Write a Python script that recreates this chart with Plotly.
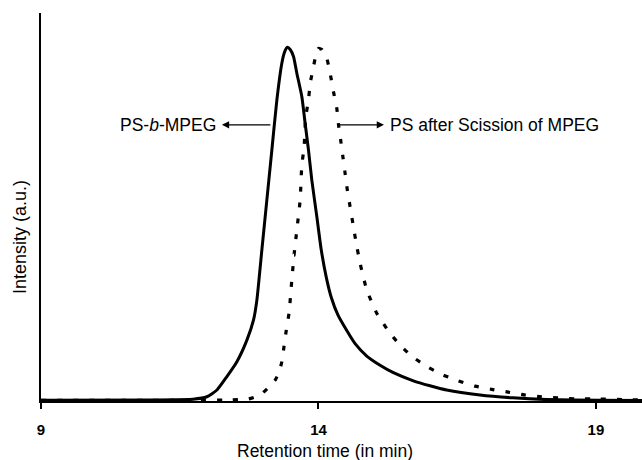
import plotly.graph_objects as go

# Retention time (min) and normalized intensity
t_block = [9.0, 10.96, 11.74, 11.99, 12.17, 12.35, 12.53, 12.71, 12.83, 12.89, 12.98, 13.07,
           13.16, 13.25, 13.34, 13.39, 13.44, 13.49, 13.55, 13.61, 13.70, 13.76, 13.82, 13.88,
           13.97, 14.05, 14.14, 14.23, 14.35, 14.51, 14.66, 14.87, 15.11, 15.35, 15.71, 16.01,
           16.31, 16.91, 17.50, 18.11, 19.07, 19.83]
i_block = [0.002, 0.003, 0.005, 0.012, 0.031, 0.069, 0.111, 0.172, 0.229, 0.285, 0.427, 0.568,
           0.709, 0.850, 0.954, 0.986, 0.999, 0.993, 0.973, 0.926, 0.860, 0.784, 0.709, 0.624,
           0.521, 0.427, 0.350, 0.293, 0.243, 0.199, 0.162, 0.127, 0.101, 0.080, 0.057, 0.043,
           0.031, 0.017, 0.009, 0.004, 0.002, 0.0015]

t_scis = [9.0, 11.86, 12.41, 12.74, 12.95, 13.09, 13.22, 13.29, 13.34, 13.38, 13.42, 13.47,
          13.52, 13.56, 13.61, 13.67, 13.70, 13.74, 13.77, 13.82, 13.85, 13.91, 13.95, 14.00,
          14.06, 14.15, 14.21, 14.27, 14.33, 14.36, 14.40, 14.44, 14.48, 14.52, 14.57, 14.62,
          14.67, 14.75, 14.87, 15.05, 15.29, 15.50, 15.71, 15.98, 16.25, 16.52, 16.82, 17.12,
          17.42, 17.72, 18.02, 18.32, 18.62, 18.92, 19.52, 19.83]
i_scis = [0.0015, 0.002, 0.003, 0.006, 0.017, 0.037, 0.059, 0.082, 0.111, 0.155, 0.200, 0.249,
          0.342, 0.412, 0.483, 0.568, 0.667, 0.715, 0.802, 0.850, 0.897, 0.944, 0.975, 0.996,
          0.993, 0.968, 0.926, 0.874, 0.827, 0.782, 0.737, 0.690, 0.643, 0.596, 0.549, 0.502,
          0.455, 0.389, 0.314, 0.248, 0.191, 0.153, 0.123, 0.095, 0.073, 0.057, 0.042, 0.033,
          0.025, 0.017, 0.012, 0.009, 0.006, 0.006, 0.004, 0.003]

x_ticks = [9, 14, 19]
x_ticklabels = ["9", "14", "19"]

FONT = "Liberation Sans, Arial, sans-serif"

fig = go.Figure()
fig.add_trace(go.Scatter(x=t_scis, y=i_scis, mode="lines",
                         line=dict(color="black", width=3.2, dash="5px,11px",
                                   shape="spline", smoothing=0.5),
                         showlegend=False, hoverinfo="skip"))
fig.add_trace(go.Scatter(x=t_block, y=i_block, mode="lines",
                         line=dict(color="black", width=3, shape="spline", smoothing=0.5),
                         showlegend=False, hoverinfo="skip"))

# arrows (empty-text annotations) and labels
fig.add_annotation(x=12.26, y=0.78, ax=13.16, ay=0.78, xref="x", yref="y",
                   axref="x", ayref="y", text="", showarrow=True,
                   arrowhead=2, arrowsize=1.2, arrowwidth=1.2, arrowcolor="black", standoff=0)
fig.add_annotation(x=12.19, y=0.78, xref="x", yref="y", xanchor="right", yanchor="middle",
                   text="PS-<i>b</i>-MPEG", showarrow=False,
                   font=dict(family=FONT, size=17.5, color="black"))
fig.add_annotation(x=15.18, y=0.78, ax=14.36, ay=0.78, xref="x", yref="y",
                   axref="x", ayref="y", text="", showarrow=True,
                   arrowhead=2, arrowsize=1.2, arrowwidth=1.2, arrowcolor="black", standoff=0)
fig.add_annotation(x=15.26, y=0.78, xref="x", yref="y", xanchor="left", yanchor="middle",
                   text="PS after Scission of MPEG", showarrow=False,
                   font=dict(family=FONT, size=17.5, color="black"))

# axis titles as paper annotations for exact placement
fig.add_annotation(x=(325 - 41) / 601, y=-(451 - 401) / 388, xref="paper", yref="paper",
                   xanchor="center", yanchor="middle", text="Retention time (in min)",
                   showarrow=False, font=dict(family=FONT, size=17.5, color="black"))
fig.add_annotation(x=-(41 - 20) / 601, y=(401 - 237) / 388, xref="paper", yref="paper",
                   xanchor="center", yanchor="middle", text="Intensity (a.u.)", textangle=-90,
                   showarrow=False, font=dict(family=FONT, size=18, color="black"))

fig.update_layout(
    width=642, height=460,
    margin=dict(l=41, r=0, t=13, b=59, autoexpand=False),
    paper_bgcolor="white", plot_bgcolor="white",
    font=dict(family=FONT, color="black"),
)
fig.update_xaxes(range=[9, 19.83], showgrid=False, zeroline=False, automargin=False,
                 showline=True, linecolor="black", linewidth=2,
                 ticks="outside", ticklen=6, tickwidth=1.5, tickcolor="black",
                 tickvals=x_ticks, ticktext=["<b>%s</b>" % s for s in x_ticklabels],
                 tickfont=dict(family=FONT, size=15, color="black"),
                 ticklabelstandoff=8)
fig.update_yaxes(range=[0, 1.096], showgrid=False, zeroline=False, automargin=False,
                 showline=True, linecolor="black", linewidth=2,
                 showticklabels=False, ticks="")

fig.write_html("out.html", config={"displayModeBar": False},
               post_script="document.body.style.margin='0px';document.body.style.padding='0px';")
